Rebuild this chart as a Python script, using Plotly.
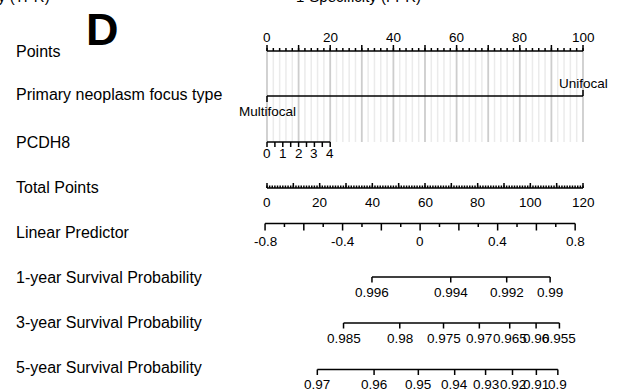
import numpy as np
import plotly.graph_objects as go

# ---------------- data ----------------
row_labels = ["Points", "Primary neoplasm focus type", "PCDH8", "Total Points",
              "Linear Predictor", "1-year Survival Probability",
              "3-year Survival Probability", "5-year Survival Probability"]

points_major = list(range(0, 101, 10))
points_minor = list(range(0, 101, 2))
points_labels = [0, 20, 40, 60, 80, 100]

focus_levels = ["Multifocal", "Unifocal"]
focus_points = [0, 100]

pcdh8_ticks = [0, 0.5, 1, 1.5, 2, 2.5, 3, 3.5, 4]
pcdh8_labels = [0, 1, 2, 3, 4]
pcdh8_points_per_unit = 5.0

total_major = list(range(0, 121, 10))
total_minor = list(range(0, 121, 1))
total_labels = [0, 20, 40, 60, 80, 100, 120]
total_max = 120

lp_major = [-0.8, -0.6, -0.4, -0.2, 0.0, 0.2, 0.4, 0.6, 0.8]
lp_minor = [-0.7, -0.5, -0.3, -0.1, 0.1, 0.3, 0.5, 0.7]
lp_labels = [-0.8, -0.4, 0.0, 0.4, 0.8]
lp_at_zero_total = -0.79      # linear predictor at 0 total points
total_points_per_lp = 73.6    # total points per unit of linear predictor

surv1 = [0.996, 0.994, 0.992, 0.99]
surv3 = [0.985, 0.98, 0.975, 0.97, 0.965, 0.96, 0.955]
surv5 = [0.97, 0.96, 0.95, 0.94, 0.93, 0.92, 0.91, 0.9]
log_cum_baseline_hazard = {1: -5.271, 3: -3.797, 5: -2.961}

# ---------------- scale helpers ----------------
def total_to_x(t):
    return np.asarray(t, float) * 100.0 / total_max

def lp_to_x(lp):
    return total_to_x((np.asarray(lp, float) - lp_at_zero_total) * total_points_per_lp)

def surv_to_x(s, year):
    s = np.asarray(s, float)
    lp = np.log(-np.log(s)) - log_cum_baseline_hazard[year]
    return lp_to_x(lp)

def fmt(v):
    return "%g" % v

# ---------------- layout constants ----------------
W, H = 617, 392
zero_px, px_per_pt = 267.0, 3.16
x_lo = (0 - zero_px) / px_per_pt
x_hi = (W - zero_px) / px_per_pt
FONT = "Liberation Sans, Arial, Helvetica, sans-serif"

label_y = [51, 94, 142.5, 187.5, 232.5, 277.5, 322.5, 367.5]

fig = go.Figure()
annotations = []

def segs(xs, y0, y1, color="black", width=1.5):
    X, Y = [], []
    for x in xs:
        X += [x, x, None]
        Y += [y0, y1, None]
    fig.add_trace(go.Scatter(x=X, y=Y, mode="lines",
                             line=dict(color=color, width=width),
                             hoverinfo="skip", showlegend=False))

def hline(xa, xb, y, width=1.5):
    fig.add_trace(go.Scatter(x=[xa, xb], y=[y, y], mode="lines",
                             line=dict(color="black", width=width),
                             hoverinfo="skip", showlegend=False))

def text(x, y, s, size=13.5, xanchor="center", bold=False):
    annotations.append(dict(x=x, y=y, xref="x", yref="y", text=("<b>%s</b>" % s) if bold else s,
                            showarrow=False, xanchor=xanchor, yanchor="middle",
                            font=dict(family=FONT, size=size, color="black"),
                            borderpad=0))

# grid lines
grid_top, grid_bot = 51, 142
segs([p for p in points_minor if p % 10 != 0], grid_top, grid_bot, color="#ebebeb", width=1.5)
segs(points_major, grid_top, grid_bot, color="#cdcdcd", width=1.8)

# Points axis (ticks up, labels above)
yP = 51
hline(0, 100, yP)
segs(points_minor, yP, yP - 3)
segs(points_major, yP, yP - 6)
for v in points_labels:
    text(v, 37.5, fmt(v))

# Primary neoplasm focus type
yF = 96
hline(focus_points[0], focus_points[1], yF)
segs([focus_points[0]], yF, yF + 6)
segs([focus_points[1]], yF, yF - 6)
text(focus_points[0], 111.5, focus_levels[0])
text(focus_points[1], 83, focus_levels[1])

# PCDH8
yC = 142
px8 = [t * pcdh8_points_per_unit for t in pcdh8_ticks]
hline(px8[0], px8[-1], yC)
segs(px8, yC, yC + 5)
for v in pcdh8_labels:
    text(v * pcdh8_points_per_unit, 153, fmt(v))

# Total points (ticks up, labels below)
yT = 188
hline(total_to_x(0), total_to_x(total_max), yT)
segs(total_to_x(total_minor), yT, yT - 2.5)
segs(total_to_x(total_major), yT, yT - 5)
for v in total_labels:
    text(float(total_to_x(v)), 202, fmt(v))

# Linear predictor
yL = 223.5
xs = lp_to_x(lp_major)
hline(xs[0], xs[-1], yL)
segs(lp_to_x(lp_minor), yL, yL + 3.5)
segs(xs, yL, yL + 7)
for v in lp_labels:
    text(float(lp_to_x(v)), 241.5, fmt(v))

# Survival probability axes
for year, vals, yline in [(1, surv1, 277), (3, surv3, 323), (5, surv5, 369.5)]:
    xs = surv_to_x(vals, year)
    hline(xs.min(), xs.max(), yline)
    segs(xs, yline, yline + 5.5)
    for v, x in zip(vals, xs):
        text(float(x), yline + 15, fmt(v))

# row labels
for lab, y in zip(row_labels, label_y):
    text((15 - zero_px) / px_per_pt, y, lab, size=16, xanchor="left")

# panel letter
text((102 - zero_px) / px_per_pt, 29, "D", size=45, bold=True)

# titles of neighbouring panels, clipped at the top edge
for s, xpx, anchor in [("1-Specificity (FPR)", 358, "center"), ("Sensitivity (TPR)", 51, "right")]:
    annotations.append(dict(x=xpx / W, y=1 + 3 / H, xref="paper", yref="paper",
                            text=s, showarrow=False, xanchor=anchor, yanchor="middle",
                            font=dict(family=FONT, size=15, color="black"), borderpad=0))

fig.update_layout(
    width=W, height=H,
    margin=dict(l=0, r=0, t=0, b=0),
    paper_bgcolor="white", plot_bgcolor="white",
    xaxis=dict(range=[x_lo, x_hi], visible=False, fixedrange=True),
    yaxis=dict(range=[H, 0], visible=False, fixedrange=True),
    annotations=annotations,
    showlegend=False,
)

fig.write_html("out.html", config={"displayModeBar": False},
               post_script="document.body.style.margin='0';document.body.style.overflow='hidden';")
